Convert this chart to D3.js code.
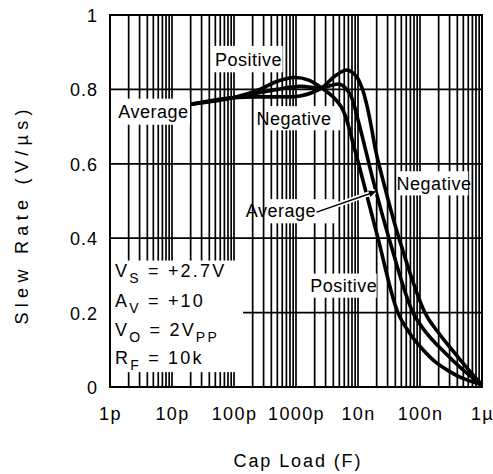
<!DOCTYPE html>
<html>
<head>
<meta charset="utf-8">
<script src="https://cdn.jsdelivr.net/npm/d3@7"></script>
<style>
  body { margin: 0; background: #fff; }
  svg { display: block; font-family: "Liberation Sans", Arial, sans-serif; }
</style>
</head>
<body>
<div id="chart"></div>
<script>
// tick values and labels
var capTicks = [1e-12, 1e-11, 1e-10, 1e-9, 1e-8, 1e-7, 1e-6];
var capLabels = ["1p", "10p", "100p", "1000p", "10n", "100n", "1\u00b5"];
var rateTicks = [0, 0.2, 0.4, 0.6, 0.8, 1];
var rateLabels = ["0", "0.2", "0.4", "0.6", "0.8", "1"];

// slew rate (V/us) vs cap load (F)
var posCap  = [20e-12, 100e-12, 260e-12, 500e-12, 950e-12, 1.6e-9, 2.6e-9, 3.95e-9, 5.7e-9, 8.9e-9, 12e-9, 21e-9, 44e-9, 70e-9, 112e-9, 175e-9, 272e-9, 450e-9, 1e-6];
var posRate = [0.76, 0.778, 0.80, 0.822, 0.832, 0.825, 0.804, 0.78, 0.745, 0.637, 0.556, 0.40, 0.20, 0.142, 0.10, 0.068, 0.046, 0.026, 0.006];

var avgCap  = [20e-12, 100e-12, 490e-12, 1.16e-9, 2.6e-9, 5.1e-9, 7.4e-9, 10e-9, 13.5e-9, 17.5e-9, 31.6e-9, 77e-9, 135e-9, 226e-9, 494e-9, 1e-6];
var avgRate = [0.76, 0.778, 0.80, 0.808, 0.804, 0.814, 0.788, 0.718, 0.632, 0.556, 0.40, 0.20, 0.14, 0.10, 0.046, 0.006];

var negCap  = [20e-12, 100e-12, 490e-12, 1.16e-9, 2.6e-9, 4.25e-9, 6.65e-9, 9.3e-9, 11.6e-9, 14e-9, 16.2e-9, 19.5e-9, 25.3e-9, 45.8e-9, 120e-9, 200e-9, 328e-9, 594e-9, 1e-6];
var negRate = [0.76, 0.778, 0.78, 0.782, 0.804, 0.836, 0.852, 0.836, 0.804, 0.755, 0.704, 0.632, 0.556, 0.40, 0.20, 0.145, 0.10, 0.048, 0.006];

var series = [
  {name: "Positive", cap: posCap, rate: posRate},
  {name: "Average", cap: avgCap, rate: avgRate},
  {name: "Negative", cap: negCap, rate: negRate}
];

var margin = {top: 15, right: 11, bottom: 87, left: 110},
    width = 493 - margin.left - margin.right,
    height = 474 - margin.top - margin.bottom;

var svg = d3.select("#chart")
  .append("svg")
  .attr("width", 493)
  .attr("height", 474)
  .append("g")
  .attr("transform", "translate(" + margin.left + "," + margin.top + ")");

var x = d3.scaleLog().domain([1e-12, 1e-6]).range([0, width]);
var y = d3.scaleLinear().domain([0, 1]).range([height, 0]);

// grid
svg.selectAll(".vgrid")
  .data(x.ticks())
  .enter()
  .append("line")
  .attr("x1", function(d) { return x(d); })
  .attr("x2", function(d) { return x(d); })
  .attr("y1", 0)
  .attr("y2", height)
  .attr("stroke", "#000")
  .attr("stroke-width", 1.7);

svg.selectAll(".hgrid")
  .data(rateTicks)
  .enter()
  .append("line")
  .attr("x1", 0)
  .attr("x2", width)
  .attr("y1", function(d) { return y(d); })
  .attr("y2", function(d) { return y(d); })
  .attr("stroke", "#000")
  .attr("stroke-width", 1.7);

// axes labels
var xAxis = svg.append("g")
  .attr("transform", "translate(0," + height + ")")
  .call(d3.axisBottom(x).tickValues(capTicks).tickSize(0).tickPadding(20)
    .tickFormat(function(d, i) { return capLabels[i]; }));
xAxis.select(".domain").remove();
xAxis.selectAll("text").attr("font-size", 18).attr("font-family", null).attr("fill", "#000")
  .attr("letter-spacing", 1.4);

var yAxis = svg.append("g")
  .call(d3.axisLeft(y).tickValues(rateTicks).tickSize(0).tickPadding(12)
    .tickFormat(function(d, i) { return rateLabels[i]; }));
yAxis.select(".domain").remove();
yAxis.selectAll("text").attr("font-size", 18).attr("font-family", null).attr("fill", "#000")
  .attr("dy", "0.36em").attr("letter-spacing", 1);

// white label boxes (in data space)
function box(c0, c1, r0, r1) {
  svg.append("rect")
    .attr("x", x(c0)).attr("y", y(r1))
    .attr("width", x(c1) - x(c0)).attr("height", y(r0) - y(r1))
    .attr("fill", "#fff");
}
box(4.6e-11, 6.1e-10, 0.846, 0.917);              // Positive top
box(1.05e-12, 1.95e-11, 0.705, 0.775);            // Average left
box(3.4e-10, 5.2e-9, 0.69, 0.755);                // Negative middle
box(4.3e-8, 6e-7, 0.515, 0.58);                   // Negative right
box(3.7e-10, 4.6e-9, 0.44, 0.505);                // Average middle
box(1.5e-9, 2e-8, 0.24, 0.305);                   // Positive lower
box(1.03e-12, 1.4e-10, 0.04, 0.34);               // conditions

// curves
var line = d3.line()
  .x(function(d) { return x(d[0]); })
  .y(function(d) { return y(d[1]); })
  .curve(d3.curveCatmullRom.alpha(0.5));

svg.selectAll(".curve")
  .data(series)
  .enter()
  .append("path")
  .attr("d", function(s) { return line(d3.zip(s.cap, s.rate)); })
  .attr("fill", "none")
  .attr("stroke", "#000")
  .attr("stroke-width", 3.6)
  .attr("stroke-linejoin", "round");

// frame
svg.append("rect")
  .attr("width", width).attr("height", height)
  .attr("fill", "none").attr("stroke", "#000").attr("stroke-width", 2);

// curve labels
var labels = [
  {text: "Positive", cap: 1.72e-10, rate: 0.863},
  {text: "Average", cap: 5.0e-12, rate: 0.723},
  {text: "Negative", cap: 9.3e-10, rate: 0.704},
  {text: "Negative", cap: 1.68e-7, rate: 0.53},
  {text: "Average", cap: 5.7e-10, rate: 0.457},
  {text: "Positive", cap: 5.9e-9, rate: 0.255}
];
svg.selectAll(".lbl")
  .data(labels)
  .enter()
  .append("text")
  .attr("x", function(d) { return x(d.cap); })
  .attr("y", function(d) { return y(d.rate); })
  .attr("text-anchor", "middle")
  .attr("font-size", 18)
  .attr("letter-spacing", 0.5)
  .text(function(d) { return d.text; });

// arrow for middle Average label
svg.append("defs").append("marker")
  .attr("id", "arr").attr("viewBox", "0 0 10 10")
  .attr("refX", 9).attr("refY", 5)
  .attr("markerWidth", 9).attr("markerHeight", 7)
  .attr("markerUnits", "userSpaceOnUse")
  .attr("orient", "auto")
  .append("path").attr("d", "M0,0L10,5L0,10z").attr("fill", "#000");
svg.append("line")
  .attr("x1", x(2.15e-9)).attr("y1", y(0.47))
  .attr("x2", x(1.9e-8)).attr("y2", y(0.525))
  .attr("stroke", "#fff").attr("stroke-width", 5);
svg.append("line")
  .attr("x1", x(2.15e-9)).attr("y1", y(0.47))
  .attr("x2", x(1.9e-8)).attr("y2", y(0.525))
  .attr("stroke", "#000").attr("stroke-width", 1.5)
  .attr("marker-end", "url(#arr)");

// conditions
var cond = [
  {main: "V", sub: "S", rest: " = +2.7V", subRest: ""},
  {main: "A", sub: "V", rest: " = +10", subRest: ""},
  {main: "V", sub: "O", rest: " = 2V", subRest: "PP"},
  {main: "R", sub: "F", rest: " = 10k", subRest: ""}
];
var condRate = [0.295, 0.216, 0.136, 0.063];
cond.forEach(function(c, i) {
  var t = svg.append("text")
    .attr("x", 5)
    .attr("y", y(condRate[i]))
    .attr("font-size", 18)
    .attr("letter-spacing", 2.2);
  t.append("tspan").text(c.main);
  t.append("tspan").attr("font-size", 14).attr("dy", 6).text(c.sub);
  t.append("tspan").attr("dy", -6).text(c.rest);
  if (c.subRest) t.append("tspan").attr("font-size", 14).attr("dy", 6).text(c.subRest);
});

// axis titles
svg.append("text")
  .attr("x", 297 - margin.left)
  .attr("y", height + 80)
  .attr("text-anchor", "middle")
  .attr("font-size", 18)
  .attr("textLength", 127)
  .attr("lengthAdjust", "spacing")
  .text("Cap Load (F)");

svg.append("text")
  .attr("transform", "translate(" + (-82) + "," + (217 - margin.top) + ") rotate(-90)")
  .attr("text-anchor", "middle")
  .attr("font-size", 18)
  .attr("textLength", 215)
  .attr("lengthAdjust", "spacing")
  .text("Slew Rate (V/\u00b5s)");
</script>
</body>
</html>
